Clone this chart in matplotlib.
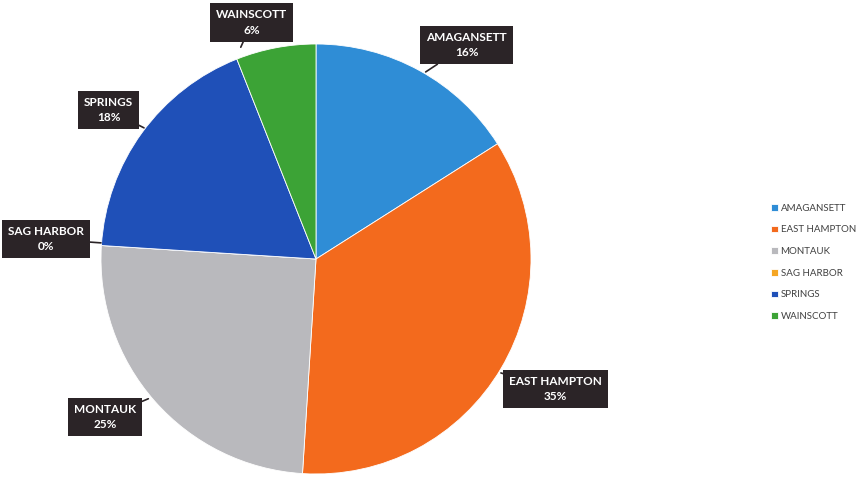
import matplotlib.pyplot as plt

towns = ["AMAGANSETT", "EAST HAMPTON", "MONTAUK", "SAG HARBOR", "SPRINGS", "WAINSCOTT"]
shares = [16, 35, 25, 0, 18, 6]
colors = ["#2f8dd6", "#f36a1d", "#b9b9bd", "#f5a623", "#1f50b8", "#3ca336"]

# callout box centres and leader-line targets (pie radius = 1)
label_pos = [(0.70, 0.995), (1.115, -0.605), (-0.98, -0.735), (-1.255, 0.093), (-0.965, 0.693), (-0.298, 1.10)]
label_tip = [(0.51, 0.87), (0.86, -0.53), (-0.78, -0.65), (-1.0, 0.075), (-0.80, 0.61), (-0.35, 0.985)]

plt.rcParams["font.family"] = ["Lato", "DejaVu Sans"]

fig = plt.figure(figsize=(8.56, 4.78), dpi=100)
ax = fig.add_axes([101 / 856, 4 / 478, 430 / 856, 430 / 478])

wedges, _ = ax.pie(shares, colors=colors, startangle=90, counterclock=False, radius=1,
                   wedgeprops=dict(edgecolor="white", linewidth=0.6))
ax.set_xlim(-1, 1)
ax.set_ylim(-1, 1)
ax.set_aspect("equal")
ax.axis("off")

for name, val, pos, tip in zip(towns, shares, label_pos, label_tip):
    ax.annotate(f"{name}\n{val}%", xy=tip, xytext=pos, ha="center", va="center",
                color="white", fontsize=8.5, fontweight="bold", linespacing=1.5,
                bbox=dict(boxstyle="square,pad=0.5", fc="#2b2427", ec="none"),
                arrowprops=dict(arrowstyle="-", color="#2b2427", lw=1.2, shrinkA=0, shrinkB=0),
                annotation_clip=False)

fig.legend(wedges, towns, loc="upper left", bbox_to_anchor=(766 / 856, 1 - 199 / 478),
           frameon=False, fontsize=7, handlelength=0.7, handleheight=0.7,
           handletextpad=0.3, labelspacing=1.3, borderpad=0, labelcolor="#404040")

fig.savefig("out.png", dpi=100)
